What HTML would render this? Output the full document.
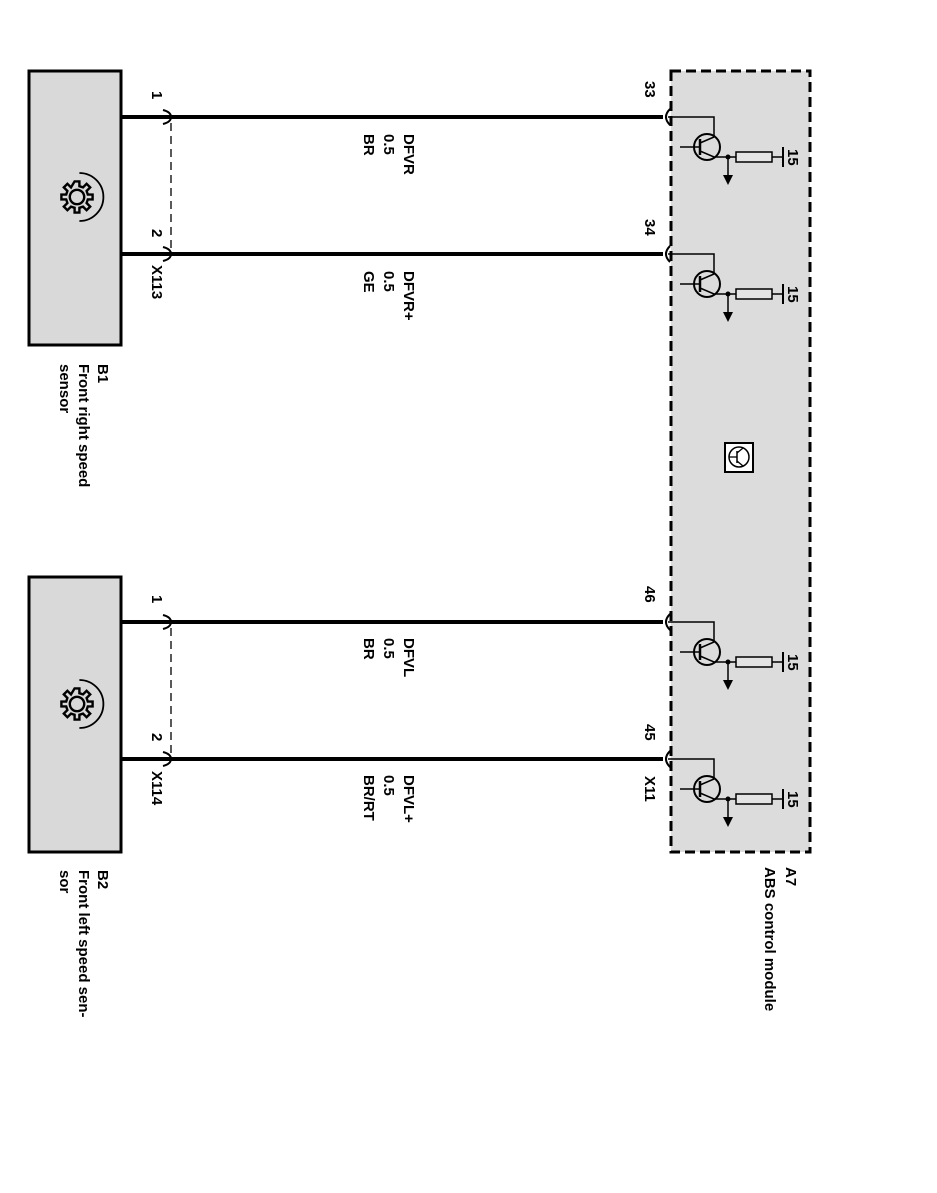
<!DOCTYPE html>
<html><head><style>body{margin:0;background:#fff}svg{display:block}text{font-family:"Liberation Sans",Arial,sans-serif;font-size:15px;font-weight:bold;fill:#000}</style></head><body>
<svg width="937" height="1193" viewBox="0 0 937 1193" xmlns="http://www.w3.org/2000/svg">
<defs>
<g id="gear" fill="none" stroke="#000" stroke-width="2">
<circle r="6"/>
<path d="M-2,-13 h4 v4 l3,1 3,-3 3,3 -3,3 1,3 h4 v4 h-4 l-1,3 3,3 -3,3 -3,-3 -3,1 v4 h-4 v-4 l-3,-1 -3,3 -3,-3 3,-3 -1,-3 h-4 v-4 h4 l1,-3 -3,-3 3,-3 3,3 z"/>
<path d="M2,-20 A20,20 0 0 1 2,20" stroke-width="1.5"/>
</g>
<g id="ch">
<line x1="121" y1="0" x2="663" y2="0" stroke="#000" stroke-width="4"/>
<path d="M163,-7 Q171,-5 171,0 Q171,5 163,7" fill="none" stroke="#000" stroke-width="2"/>
<path d="M670,-8 Q662,0 670,8" fill="none" stroke="#000" stroke-width="2"/>
<polyline points="668,0 714,0 714,20" fill="none" stroke="#000" stroke-width="1.5"/>
<circle cx="707" cy="30" r="13" fill="none" stroke="#000" stroke-width="2"/>
<line x1="680" y1="30" x2="700" y2="30" stroke="#000" stroke-width="1.5"/>
<line x1="700" y1="22" x2="700" y2="38" stroke="#000" stroke-width="2.5"/>
<line x1="700" y1="26" x2="714" y2="20" stroke="#000" stroke-width="1.5"/>
<polyline points="700,34 714,40 728,40" fill="none" stroke="#000" stroke-width="1.5"/>
<circle cx="728" cy="40" r="2.5"/>
<line x1="728" y1="40" x2="728" y2="60" stroke="#000" stroke-width="1.5"/>
<polygon points="723,58 733,58 728,68"/>
<line x1="728" y1="40" x2="736" y2="40" stroke="#000" stroke-width="1.5"/>
<rect x="736" y="35" width="36" height="10" fill="#e4e4e4" stroke="#000" stroke-width="1.5"/>
<line x1="772" y1="40" x2="783" y2="40" stroke="#000" stroke-width="1.5"/>
<line x1="783" y1="30" x2="783" y2="50" stroke="#000" stroke-width="2"/>
<text transform="translate(788,32) rotate(90)">15</text>
</g>
</defs>
<rect x="671" y="71" width="139" height="781" fill="#dcdcdc" stroke="#000" stroke-width="3" stroke-dasharray="10,5"/>
<rect x="29" y="71" width="92" height="274" fill="#d9d9d9" stroke="#000" stroke-width="3"/>
<rect x="29" y="577" width="92" height="275" fill="#d9d9d9" stroke="#000" stroke-width="3"/>
<use href="#gear" transform="translate(77,197) scale(1.2)"/>
<use href="#gear" transform="translate(77,704) scale(1.2)"/>
<line x1="171" y1="123" x2="171" y2="248" stroke="#000" stroke-width="1.3" stroke-dasharray="8,5"/>
<line x1="171" y1="628" x2="171" y2="753" stroke="#000" stroke-width="1.3" stroke-dasharray="8,5"/>
<use href="#ch" y="117"/>
<use href="#ch" y="254"/>
<use href="#ch" y="622"/>
<use href="#ch" y="759"/>
<rect x="725" y="443" width="28" height="29" fill="#fff" stroke="#000" stroke-width="2"/>
<circle cx="739" cy="457" r="10" fill="none" stroke="#000" stroke-width="1.5"/>
<line x1="729" y1="457" x2="737" y2="457" stroke="#000" stroke-width="1.3"/>
<line x1="737" y1="451" x2="737" y2="463" stroke="#000" stroke-width="1.5"/>
<line x1="737" y1="453" x2="743" y2="448" stroke="#000" stroke-width="1.3"/>
<line x1="737" y1="461" x2="743" y2="466" stroke="#000" stroke-width="1.3"/>
<g>
<text transform="translate(152,91) rotate(90)">1</text>
<text transform="translate(152,229) rotate(90)">2</text>
<text transform="translate(152,265) rotate(90)">X113</text>
<text transform="translate(152,595) rotate(90)">1</text>
<text transform="translate(152,733) rotate(90)">2</text>
<text transform="translate(152,771) rotate(90)">X114</text>
<text transform="translate(645,81) rotate(90)">33</text>
<text transform="translate(645,219) rotate(90)">34</text>
<text transform="translate(645,586) rotate(90)">46</text>
<text transform="translate(645,724) rotate(90)">45</text>
<text transform="translate(645,776) rotate(90)">X11</text>
<text transform="translate(404,134) rotate(90)">DFVR</text>
<text transform="translate(384,134) rotate(90)">0.5</text>
<text transform="translate(364,134) rotate(90)">BR</text>
<text transform="translate(404,271) rotate(90)">DFVR+</text>
<text transform="translate(384,271) rotate(90)">0.5</text>
<text transform="translate(364,271) rotate(90)">GE</text>
<text transform="translate(404,638) rotate(90)">DFVL</text>
<text transform="translate(384,638) rotate(90)">0.5</text>
<text transform="translate(364,638) rotate(90)">BR</text>
<text transform="translate(404,775) rotate(90)">DFVL+</text>
<text transform="translate(384,775) rotate(90)">0.5</text>
<text transform="translate(364,775) rotate(90)">BR/RT</text>
<text transform="translate(98,364) rotate(90)">B1</text>
<text transform="translate(79,364) rotate(90)">Front right speed</text>
<text transform="translate(60,364) rotate(90)">sensor</text>
<text transform="translate(98,870) rotate(90)">B2</text>
<text transform="translate(79,870) rotate(90)">Front left speed sen-</text>
<text transform="translate(60,870) rotate(90)">sor</text>
<text transform="translate(786,867) rotate(90)">A7</text>
<text transform="translate(765,867) rotate(90)">ABS control module</text>
</g>
</svg>
</body></html>
